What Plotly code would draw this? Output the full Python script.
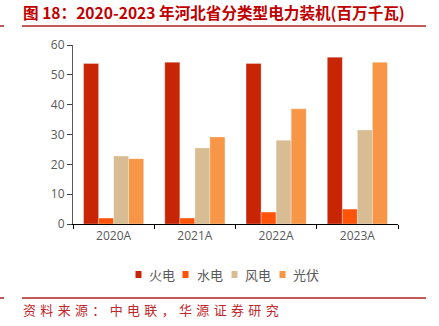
import plotly.graph_objects as go

categories = ["2020A", "2021A", "2022A", "2023A"]
thermal = [53.8, 54.2, 53.8, 55.9]
hydro = [2.0, 2.0, 4.0, 5.0]
wind = [22.8, 25.5, 28.1, 31.5]
solar = [21.9, 29.2, 38.6, 54.2]
series_names = ["火电", "水电", "风电", "光伏"]
colors = ["#C82406", "#FF5309", "#D8BC94", "#F79646"]

W, H = 439, 326
L, R, T, B = 73, 41, 45, 102

fig = go.Figure()
for name, vals, c in zip(series_names, [thermal, hydro, wind, solar], colors):
    fig.add_trace(go.Bar(x=categories, y=vals, name=name, marker_color=c,
                         marker_line=dict(color="rgba(255,255,255,0.5)", width=0.6)))

plot_w = W - L - R
plot_h = H - T - B

def px2paper_x(px):
    return (px - L) / plot_w

def px2paper_y(py):
    return (H - B - py) / plot_h

fig.update_layout(
    width=W, height=H,
    margin=dict(l=L, r=R, t=T, b=B),
    paper_bgcolor="white", plot_bgcolor="white",
    barmode="group", bargap=0.26, bargroupgap=0,
    font=dict(family="Open Sans, Noto Sans CJK SC", size=12, color="#595959"),
    showlegend=False,
    xaxis=dict(showline=True, linecolor="black", linewidth=1.2,
               ticks="outside", ticklen=4, tickcolor="black", tickson="boundaries",
               tickfont=dict(size=12, color="#595959")),
    yaxis=dict(range=[0, 60], dtick=10, showline=True, linecolor="#595959", linewidth=1.2,
               ticks="outside", ticklen=5, tickcolor="#404040", showgrid=False,
               zeroline=False, tickfont=dict(size=12, color="#595959")),
)

# manual legend (compact spacing as in reference)
sq_centers = [138.5, 185.5, 234.5, 282.5]
txt_starts = [147, 195, 243, 291]
for name, c, sx, tx in zip(series_names, colors, sq_centers, txt_starts):
    fig.add_shape(type="rect", xref="paper", yref="paper",
                  x0=px2paper_x(sx - 3), x1=px2paper_x(sx + 3),
                  y0=px2paper_y(278), y1=px2paper_y(271),
                  fillcolor=c, line=dict(width=0))
    fig.add_annotation(text=name, xref="paper", yref="paper",
                       x=px2paper_x(tx), y=px2paper_y(274.5),
                       xanchor="left", yanchor="middle", showarrow=False,
                       font=dict(family="Noto Sans CJK SC", size=13, color="#595959"))

# title and source
fig.add_annotation(text="<b>图 18：2020-2023 年河北省分类型电力装机(百万千瓦)</b>",
                   xref="paper", yref="paper", x=px2paper_x(21), y=px2paper_y(12),
                   xanchor="left", yanchor="middle", showarrow=False,
                   font=dict(family="Noto Sans CJK SC", size=15.6, color="#C00000"))
src = "\u2004".join("资料来源：中电联，华源证券研究")
fig.add_annotation(text=src,
                   xref="paper", yref="paper", x=px2paper_x(21), y=px2paper_y(309),
                   xanchor="left", yanchor="middle", showarrow=False,
                   font=dict(family="Noto Sans CJK SC", size=13, color="#C0282D"))

for yy in [26, 298]:
    fig.add_shape(type="line", xref="paper", yref="paper",
                  x0=px2paper_x(22), x1=px2paper_x(426), y0=px2paper_y(yy), y1=px2paper_y(yy),
                  line=dict(color="#B22222", width=1.5))
    fig.add_shape(type="line", xref="paper", yref="paper",
                  x0=px2paper_x(0), x1=px2paper_x(4), y0=px2paper_y(yy), y1=px2paper_y(yy),
                  line=dict(color="#B22222", width=1.5))

fig.write_html("out.html")
